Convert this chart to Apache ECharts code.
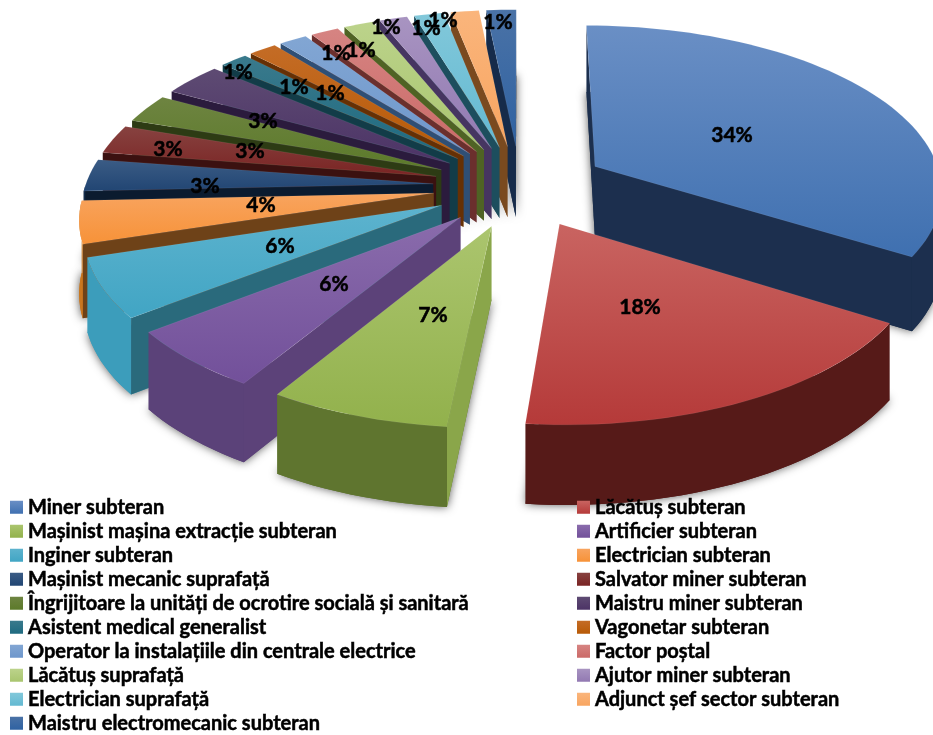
<!DOCTYPE html>
<html><head><meta charset="utf-8">
<style>html,body{margin:0;padding:0;background:#fff}#c{width:933px;height:735px}</style>
<script src="https://cdn.jsdelivr.net/npm/echarts@6/dist/echarts.min.js"></script>
</head><body><div id="c"></div>
<script>
const categories = ["Miner subteran","Lăcătuș subteran","Mașinist mașina extracție subteran","Artificier subteran","Inginer subteran","Electrician subteran","Mașinist mecanic suprafață","Salvator miner subteran","Îngrijitoare la unități de ocrotire socială și sanitară","Maistru miner subteran","Asistent medical generalist","Vagonetar subteran","Operator la instalațiile din centrale electrice","Factor poștal","Lăcătuș suprafață","Ajutor miner subteran","Electrician suprafață","Adjunct șef sector subteran","Maistru electromecanic subteran"];
const values = [33.9,17.65,7.15,5.8,5.7,4.1,3.1,2.8,2.8,3.2,1.5,1.5,1.5,1.5,1.6,1.5,1.6,1.5,1.6];
const percentLabels = ["34%","18%","7%","6%","6%","4%","3%","3%","3%","3%","1%","1%","1%","1%","1%","1%","1%","1%","1%"];
const topLight = ["#6A8FC5","#C96461","#ABC56E","#8A6CAC","#5DB3CE","#F8A45F","#3B5C85","#874240","#6E8441","#5E4B73","#3A7A8C","#C46C26","#82A6D3","#D68482","#BCD38B","#A894C1","#82C8DA","#FAB57C","#4A72A6"];
const topDark = ["#3F70B0","#B53A39","#92B14C","#72509A","#41A5C4","#F79238","#214573","#7A2423","#5C7A2A","#4C3366","#1E6A80","#B85A06","#6E97CC","#CB6A68","#A9C56F","#9279B2","#63B9D2","#F8A560","#2F62A2"];
const outerWall = ["#1C2F4E","#561A18","#5F752F","#5B4279","#3C9DBB","#C9771F","#142D4C","#45100F","#33431A","#2C1B40","#123F4C","#6E3304","#2F5078","#6E2C2B","#4B6023","#453460","#1E5364","#86501C","#182F50"];
const cutWall = ["#1C2F4E","#561A18","#8AA64A","#5C4279","#2A6A7C","#6E4218","#0B1B2F","#3B1110","#2D3B14","#2B1B3D","#123C48","#663004","#2F4F75","#6B2F2D","#4F6324","#463561","#1D4E5E","#7A4A1F","#162B4A"];
const labelAnchors = [[732,135],[640,307],[433,315],[334,284],[280,246],[261,205],[205,186],[168,149],[250,151],[263,121],[238,72],[294,87],[330,93],[336,53],[361,50],[386,27],[426,28],[443,20],[498,22]];

const cx=520, cy=186, a=348, b=164, k=0.13, explode=0.25, wallH=72;
const total = values.reduce((p,q)=>p+q,0);
const starts=[]; values.reduce((acc,v,i)=>{starts[i]=acc;return acc+v;},0);
const rad=d=>d*Math.PI/180;
function proj(u,v){const s=1/(1+k*v);return {x:cx+a*u*s,y:cy-b*v*s,h:wallH*(1+0.6*(s-1))};}
function sliceGeom(i){
  const t0=starts[i]/total*360,t1=(starts[i]+values[i])/total*360,m=(t0+t1)/2;
  const eu=explode*Math.sin(rad(m)),ev=explode*Math.cos(rad(m));
  const pt=t=>proj(eu+Math.sin(rad(t)),ev+Math.cos(rad(t)));
  return {t0,t1,m,apex:proj(eu,ev),pt};
}
function grad(c1,c2){return {type:'linear',x:0,y:0,x2:0,y2:1,colorStops:[{offset:0,color:c1},{offset:1,color:c2}]};}
function poly(points,fill,extra,z2){return {type:'polygon',shape:{points:points},style:Object.assign({fill:fill},extra||{}),z2:z2,silent:true};}
function renderSlice(i,api){
  const g=sliceGeom(i),arc=[],n=Math.max(4,Math.ceil((g.t1-g.t0)/2));
  for(let j=0;j<=n;j++){const t=g.t0+(g.t1-g.t0)*j/n;arc.push({t,p:g.pt(t)});}
  const A=g.apex,top=[[A.x,A.y]].concat(arc.map(o=>[o.p.x,o.p.y]));
  const bottom=[[A.x,A.y+A.h]].concat(arc.map(o=>[o.p.x,o.p.y+o.p.h]));
  const kids=[];
  kids.push(poly(bottom,outerWall[i],{shadowBlur:10,shadowColor:'rgba(0,0,0,0.65)'},1));
  const T=g.pt(g.m);
  const cut=B=>{const dx=B.x-A.x,dy=B.y-A.y;const side=dx*(T.y-A.y)-dy*(T.x-A.x);const low=dx;
    if(side*low<0){kids.push(poly([[A.x,A.y],[B.x,B.y],[B.x,B.y+B.h],[A.x,A.y+A.h]],cutWall[i],null,2));}};
  cut(g.pt(g.t0));cut(g.pt(g.t1));
  const front=arc.filter(o=>Math.cos(rad(o.t))<0.02);
  if(front.length>1){
    const w=front.map(o=>[o.p.x,o.p.y]).concat(front.slice().reverse().map(o=>[o.p.x,o.p.y+o.p.h]));
    kids.push(poly(w,outerWall[i],null,3));
  }
  kids.push(poly(top,grad(topLight[i],topDark[i]),{stroke:'rgba(255,255,255,0.12)',lineWidth:0.6},4));
  return {type:'group',children:kids};
}
const depthRank=values.map((_,i)=>i).sort((p,q)=>Math.cos(rad(sliceGeom(q).m))-Math.cos(rad(sliceGeom(p).m)));
const series=categories.map((name,i)=>({
  type:'custom',name:name,coordinateSystem:'none',silent:true,animation:false,
  z:2+depthRank.indexOf(i),
  itemStyle:{color:topDark[i]},
  data:[[values[i]]],
  renderItem:(params,api)=>renderSlice(i,api)
}));
series.push({
  type:'custom',name:'labels',coordinateSystem:'none',silent:true,animation:false,z:60,
  data:values.map(v=>[v]),
  renderItem:(params,api)=>({type:'text',silent:true,
    x:labelAnchors[params.dataIndex][0],y:labelAnchors[params.dataIndex][1],
    style:{text:percentLabels[params.dataIndex],fill:'#000',stroke:'#000',lineWidth:0.5,font:'bold 21px Lato',align:'center',verticalAlign:'middle'}})
});
const legendData=idx=>idx.map(i=>({name:categories[i],icon:'rect',itemStyle:{color:grad(topLight[i],topDark[i]),borderWidth:0}}));
const legendBase={orient:'vertical',padding:0,itemWidth:13,itemHeight:13,itemGap:3.5,selectedMode:false,z:70,height:300,
  textStyle:{color:'#000',fontFamily:'Lato',fontWeight:'bold',fontSize:20,lineHeight:18,textBorderColor:'#000',textBorderWidth:0.5},top:497};
const chart=echarts.init(document.getElementById('c'),null,{renderer:'canvas'});
chart.setOption({
  animation:false,backgroundColor:'#fff',
  legend:[
    Object.assign({},legendBase,{left:10,data:legendData(categories.map((_,i)=>i).filter(i=>i%2===0))}),
    Object.assign({},legendBase,{left:577,data:legendData(categories.map((_,i)=>i).filter(i=>i%2===1))})
  ],
  series:series
});
</script></body></html>
